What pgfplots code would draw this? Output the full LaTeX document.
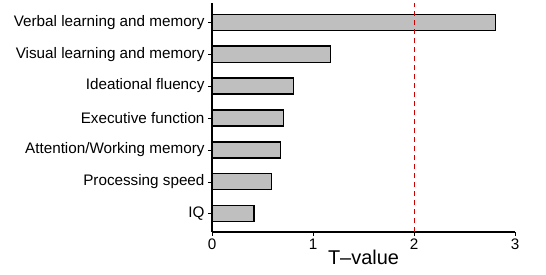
\documentclass[border=0pt]{standalone}
\usepackage{pgfplots}
\pgfplotsset{compat=1.18}
\usepackage{fontspec}
\setmainfont{Liberation Sans}
\begin{document}
\begin{tikzpicture}[x=1bp,y=1bp]
\begin{axis}[
  at={(212bp,43bp)}, anchor=south west,
  scale only axis,
  width=303bp, height=229bp,
  xmin=0, xmax=3, ymin=-0.57, ymax=6.6,
  axis x line*=bottom, axis y line*=left,
  axis line style={line width=1.1pt, -},
  xtick={0,1,2,3},
  ytick={0,1,2,3,4,5,6},
  yticklabels={IQ,Processing speed,Attention/Working memory,Executive function,Ideational fluency,Visual learning and memory,Verbal learning and memory},
  tick align=outside,
  major tick length=4bp,
  tick style={black, line width=0.6pt},
  ticklabel style={font=\fontsize{15.3}{17}\selectfont},
  x tick label style={yshift=1bp},
  /pgf/number format/assume math mode=true,
  xlabel={T\textendash value},
  xlabel style={font=\fontsize{20}{22}\selectfont, yshift=6bp},
  clip=false,
]
\addplot[xbar, bar width=16bp, fill=gray!50, draw=black, line width=1.2pt] coordinates {
(0.416,0) (0.59,1) (0.676,2) (0.71,3) (0.81,4) (1.17,5) (2.81,6)};
\addplot[red!80!black, line width=0.8pt, dash pattern=on 5bp off 4bp] coordinates {(2,-0.57) (2,6.6)};
\end{axis}
\path (0,0) rectangle (546bp,275bp);
\end{tikzpicture}
\end{document}
